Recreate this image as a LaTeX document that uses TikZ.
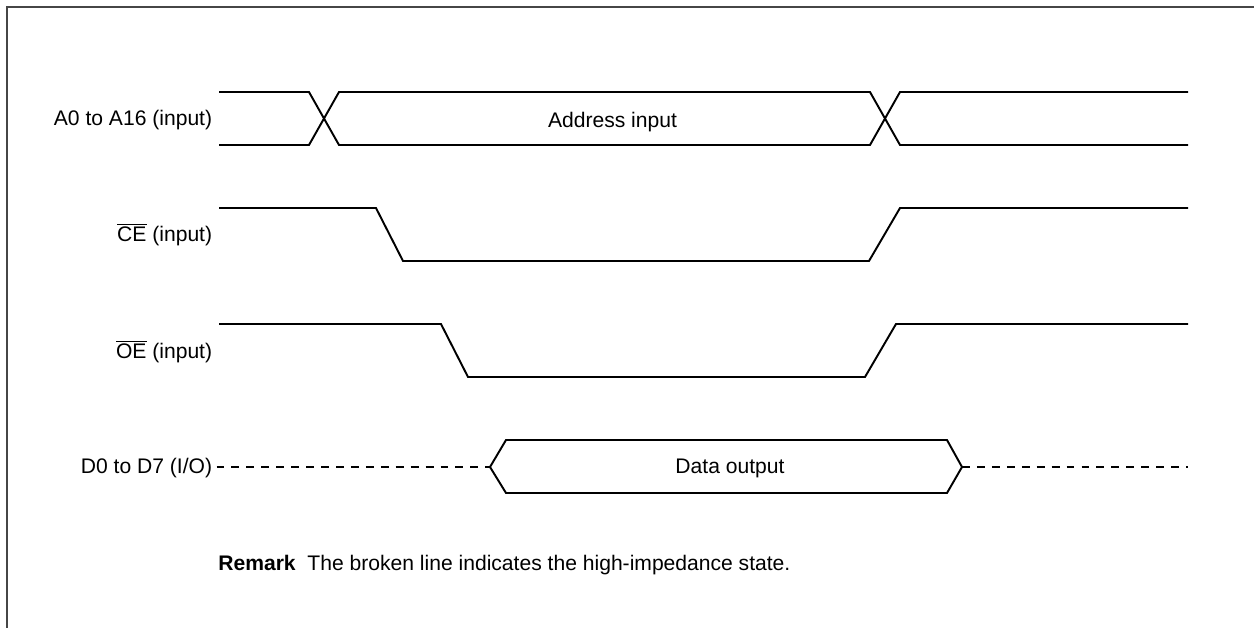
\documentclass[tikz,border=0pt]{standalone}
\usepackage{fontspec}
\setmainfont{Liberation Sans}
\usetikzlibrary{positioning}
\definecolor{frame color}{RGB}{70,70,70}

\begin{document}
\begin{tikzpicture}[
	font=\fontsize{12}{14}\selectfont,
	wave/.style={line width=1.1pt, line join=miter},
	hiz/.style={line width=1.1pt, dash pattern=on 4.5pt off 4pt},
	sig label/.style={anchor=east, inner sep=0pt}]

\useasboundingbox (0,0) rectangle (25.08,-12.56);

% Frame
\draw [frame color, line width=.6pt] (0.14,-12.56) -- (0.14,-0.14) -- (25.08,-0.14);

% Signal names
\node (a lbl) at (4.25,-2.40) [sig label] {A0 to A16 (input)};
\node (ce lbl) at (4.25,-4.70) [sig label] {$\overline{\hbox{CE}}$ (input)};
\node (oe lbl) at (4.25,-7.04) [sig label] {$\overline{\hbox{OE}}$ (input)};
\node (d lbl) at (4.25,-9.36) [sig label] {D0 to D7 (I/O)};

% Address bus
\draw [wave] (4.38,-1.84) -- (6.18,-1.84) -- (6.78,-2.90) -- (17.40,-2.90) -- (18.00,-1.84) -- (23.76,-1.84);
\draw [wave] (4.38,-2.90) -- (6.18,-2.90) -- (6.78,-1.84) -- (17.40,-1.84) -- (18.00,-2.90) -- (23.76,-2.90);
\node (addr) at (12.25,-2.44) {Address input};

% Strobes
\foreach \hi/\lo/\fa/\fb/\ra/\rb in {-4.16/-5.22/7.52/8.06/17.38/18.00,
                                    -6.48/-7.54/8.82/9.36/17.30/17.92} {
    \draw [wave] (4.38,\hi) -- (\fa,\hi) -- (\fb,\lo) -- (\ra,\lo) -- (\rb,\hi) -- (23.76,\hi);
}

% Data bus
\coordinate (d in) at (9.80,-9.34);
\coordinate (d out) at (19.24,-9.34);
\coordinate (d end) at (23.76,-9.34);
\draw [hiz] (d lbl.east) ++(0.08,0.02) -- (d in);
\draw [wave] (d in) -- (10.12,-8.80) -- (18.94,-8.80) -- (d out) -- (18.94,-9.86) -- (10.12,-9.86) -- cycle;
\draw [hiz] (d out) -- (d end);
\node (data) at (14.60,-9.36) {Data output};

% Remark
\node (remark) at (4.36,-11.30) [anchor=west, inner sep=0pt] {\textbf{Remark}~~The broken line indicates the high-impedance state.};

\end{tikzpicture}
\end{document}
